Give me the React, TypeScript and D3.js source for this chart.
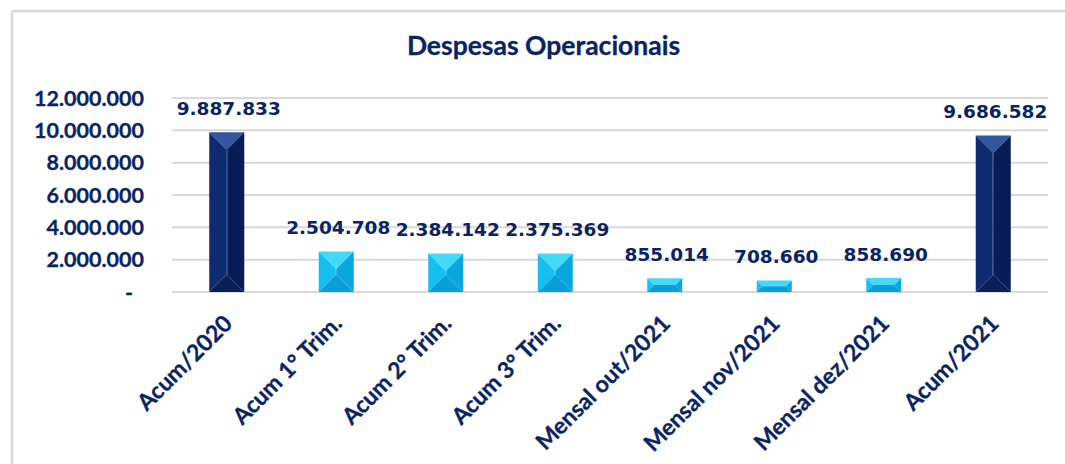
import React from "react";
import * as d3 from "d3";

const categories = [
  "Acum/2020",
  "Acum 1° Trim.",
  "Acum 2° Trim.",
  "Acum 3° Trim.",
  "Mensal out/2021",
  "Mensal nov/2021",
  "Mensal dez/2021",
  "Acum/2021",
];
const values = [9887833, 2504708, 2384142, 2375369, 855014, 708660, 858690, 9686582];
const groups = ["anual", "parcial", "parcial", "parcial", "parcial", "parcial", "parcial", "anual"];
const yTicks = [0, 2000000, 4000000, 6000000, 8000000, 10000000, 12000000];
const title = "Despesas Operacionais";

const W = 1065;
const H = 464;
const TEXT = "#0A2463";
const GRID = "#d9d9d9";

const palettes: Record<string, { top: string; left: string; right: string; bottom: string; mid: string }> = {
  anual: { top: "#35559C", left: "#0E2A70", right: "#071C57", bottom: "#0A1E58", mid: "#0B2362" },
  parcial: { top: "#45D9F8", left: "#16BFF0", right: "#0AA7DE", bottom: "#0A9FD7", mid: "#10B4EA" },
};

const locale = d3.formatLocale({ decimal: ",", thousands: ".", grouping: [3], currency: ["", ""] });
const fmt = locale.format(",.0f");

export default function App() {
  const x = d3.scaleBand<string>().domain(categories).range([172, 1048]).paddingInner(0.68).paddingOuter(0.34);
  const y = d3.scaleLinear().domain([0, 12000000]).range([292, 98]);
  const axisFont = "Lato, 'Open Sans', sans-serif";
  const labelFont = "'DejaVu Sans', Verdana, sans-serif";

  return (
    <svg
      width={W}
      height={H}
      viewBox={`0 0 ${W} ${H}`}
      style={{ position: "absolute", left: 0, top: 0, display: "block", background: "#fff" }}
    >
      <rect x={0} y={0} width={W} height={H} fill="#fff" />
      {/* chart frame */}
      <line x1={12} y1={11} x2={W} y2={11} stroke={GRID} strokeWidth={2.5} />
      <line x1={12} y1={11} x2={12} y2={H} stroke={GRID} strokeWidth={2.5} />

      <text
        x={543.5}
        y={54.5}
        textAnchor="middle"
        fontFamily={axisFont}
        fontWeight={700}
        fontSize={26.5}
        fill={TEXT}
        stroke={TEXT}
        strokeWidth={0.3}
      >
        {title}
      </text>

      {/* grid and y axis */}
      {yTicks.map((t) => (
        <g key={t}>
          <line x1={172} x2={1048} y1={y(t)} y2={y(t)} stroke={GRID} strokeWidth={2} />
          <text
            x={t === 0 ? 133 : 144}
            y={y(t) + 7.5}
            textAnchor="end"
            fontFamily={axisFont}
            fontWeight={700}
            fontSize={21.5}
            fill={TEXT}
            stroke={TEXT}
            strokeWidth={0.3}
          >
            {t === 0 ? "-" : fmt(t)}
          </text>
        </g>
      ))}

      {/* bars */}
      {categories.map((c, i) => {
        const bx = x(c) as number;
        const bw = x.bandwidth();
        const by = y(values[i]);
        const bh = y(0) - by;
        const b = Math.min(bw / 2, bh / 2, 17);
        const p = palettes[groups[i]];
        const r = bx + bw;
        const bt = by + bh;
        return (
          <g key={c}>
            <rect x={bx + b} y={by + b} width={Math.max(0, bw - 2 * b)} height={Math.max(0, bh - 2 * b)} fill={p.mid} />
            <path d={`M${bx},${by}L${r},${by}L${r - b},${by + b}L${bx + b},${by + b}Z`} fill={p.top} />
            <path d={`M${bx},${by}L${bx + b},${by + b}L${bx + b},${bt - b}L${bx},${bt}Z`} fill={p.left} />
            <path d={`M${r},${by}L${r},${bt}L${r - b},${bt - b}L${r - b},${by + b}Z`} fill={p.right} />
            <path d={`M${bx},${bt}L${bx + b},${bt - b}L${r - b},${bt - b}L${r},${bt}Z`} fill={p.bottom} />
            <text
              x={bx + bw / 2 + 2}
              y={by - 17.5}
              textAnchor="middle"
              fontFamily={labelFont}
              fontWeight={700}
              fontSize={18.5}
              fill={TEXT}
            >
              {fmt(values[i])}
            </text>
            <text
              transform={`translate(${bx + bw / 2 + 7},325) rotate(-45)`}
              textAnchor="end"
              fontFamily={axisFont}
              fontWeight={700}
              fontSize={23}
              fill={TEXT}
              stroke={TEXT}
              strokeWidth={0.3}
            >
              {c}
            </text>
          </g>
        );
      })}
    </svg>
  );
}
